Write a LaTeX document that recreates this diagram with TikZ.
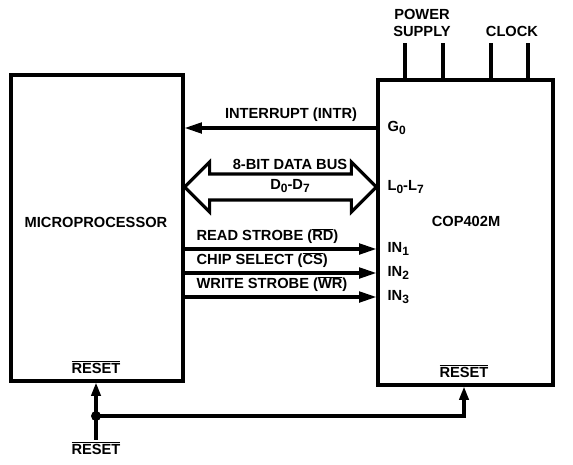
\documentclass[tikz,border=0pt]{standalone}
\usepackage{fontspec}
\setmainfont{Liberation Sans}
\usetikzlibrary{arrows.meta,calc}
\newcommand{\barsig}[1]{$\overline{\mbox{#1}}$}
\newcommand{\pinsub}[1]{\raisebox{-0.3ex}{\fontsize{9}{9}\selectfont #1}}

\begin{document}
\begin{tikzpicture}[x=0.75pt,y=-0.75pt,>={Triangle[length=13pt,width=8pt]},
    box/.style={draw,line width=2.4pt,inner sep=0pt},
    lbl/.style={font=\fontsize{11}{12.6}\selectfont\bfseries,inner sep=1pt},
    sig/.style={line width=2.3pt}]
    \useasboundingbox (0,0) rectangle (573,464);

    % Blocks
    \node[box,minimum width=129pt,minimum height=229.5pt] (mp) at (97,228) {};
    \node[box,minimum width=131.25pt,minimum height=228.75pt] (cop) at (465.5,232.5) {};
    \node[lbl] (mpname) at (96,222) {MICROPROCESSOR};
    \node[lbl] (copname) at (466,221) {COP402M};

    % Supply and clock pins
    \node[lbl,align=center] (pwr) at (422,23) {POWER\\SUPPLY};
    \node[lbl] (clk) at (512,31) {CLOCK};
    \foreach \x in {405,443,491,528}
        \draw[sig] (\x,43) -- (\x,0 |- cop.north);

    % Pin names
    \node[lbl,anchor=west] (g0) at (386,128) {G\pinsub{0}};
    \node[lbl,anchor=west] (lp) at (386,187) {L\pinsub{0}-L\pinsub{7}};
    \node[lbl,anchor=west] (in1) at (386,249) {IN\pinsub{1}};
    \node[lbl,anchor=west] (in2) at (386,273) {IN\pinsub{2}};
    \node[lbl,anchor=west] (in3) at (386,297) {IN\pinsub{3}};

    % Interrupt
    \draw[sig,->] (cop.west |- g0) -- (mp.east |- g0);
    \node[lbl] (intr) at (291,115) {INTERRUPT (INTR)};

    % Data bus
    \coordinate (A) at (mp.east |- lp);
    \coordinate (B) at (cop.west |- lp);
    \draw[sig,line join=miter] (A) -- ++(25,-25) -- ++(0,12) -- ($(B)+(-25,-13)$)
        -- ++(0,-12) -- (B) -- ++(-25,25) -- ++(0,-12) -- ($(A)+(25,13)$)
        -- ++(0,12) -- cycle;
    \node[lbl] (busname) at (290,164) {8-BIT DATA BUS};
    \node[lbl] (buslines) at (290,186) {D\pinsub{0}-D\pinsub{7}};

    % Strobes
    \draw[sig,->] (mp.east |- in1) -- (cop.west |- in1);
    \draw[sig,->] (mp.east |- in2) -- (cop.west |- in2);
    \draw[sig,->] (mp.east |- in3) -- (cop.west |- in3);
    \node[lbl,anchor=west] (rd) at (195,236) {READ STROBE (\barsig{RD})};
    \node[lbl,anchor=west] (cs) at (195,260) {CHIP SELECT (\barsig{CS})};
    \node[lbl,anchor=west] (wr) at (195,284) {WRITE STROBE (\barsig{WR})};

    % Reset
    \node[lbl] (rsta) at (96,367) {\barsig{RESET}};
    \node[lbl] (rstb) at (464,371) {\barsig{RESET}};
    \node[lbl] (rst) at (96,448) {\barsig{RESET}};
    \coordinate (j) at (96,416);
    \draw[sig] (rst) -- (j);
    \draw[sig,-{Triangle[length=10pt,width=7pt]}] (j) -- (j |- mp.south);
    \draw[sig,-{Triangle[length=10pt,width=7pt]}] (j) -| (rstb |- cop.south);
    \fill (j) circle (5);
\end{tikzpicture}
\end{document}
